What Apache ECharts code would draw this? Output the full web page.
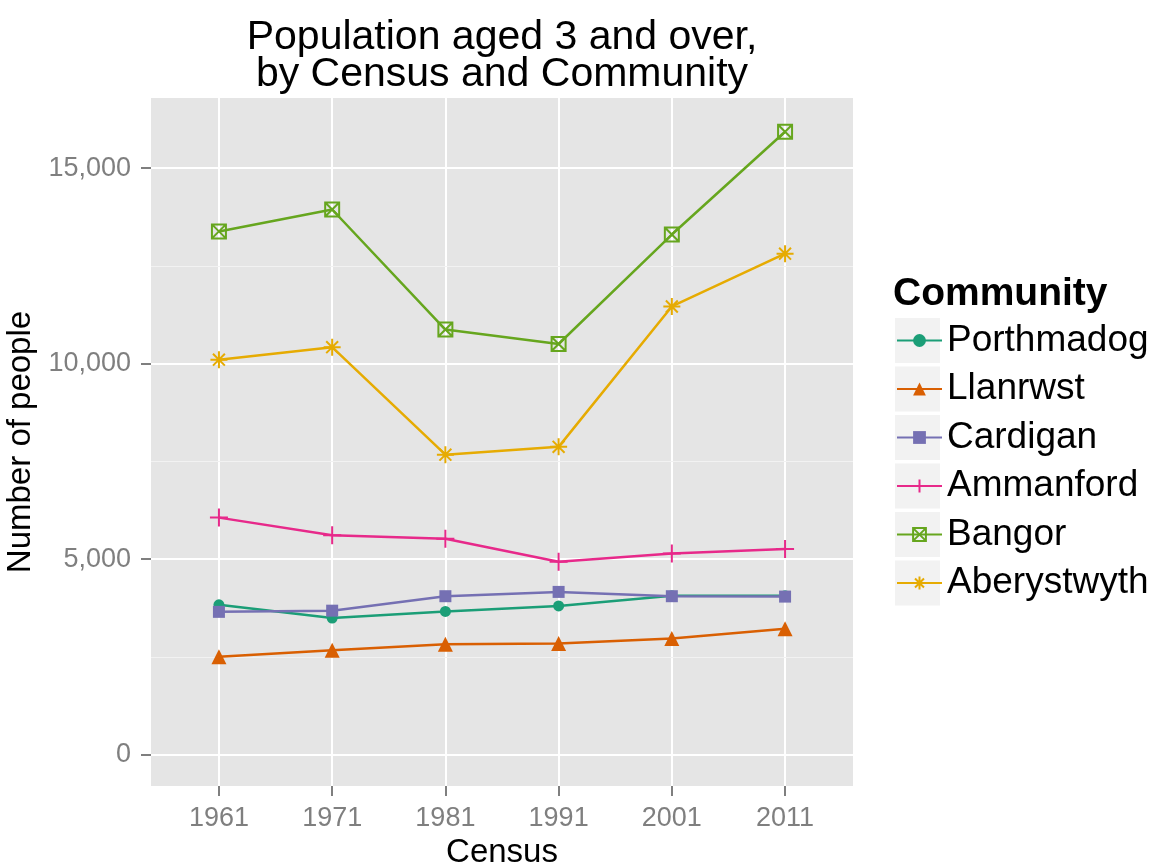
<!DOCTYPE html>
<html>
<head>
<meta charset="utf-8">
<script src="https://cdn.jsdelivr.net/npm/echarts@6/dist/echarts.min.js"></script>
<style>
html,body{margin:0;padding:0;background:#fff;}
#chart{width:1154px;height:863px;}
</style>
</head>
<body>
<div id="chart"></div>
<script>
var years = [1961, 1971, 1981, 1991, 2001, 2011];
var communities = ['Porthmadog', 'Llanrwst', 'Cardigan', 'Ammanford', 'Bangor', 'Aberystwyth'];
var porthmadog = [3830, 3490, 3660, 3800, 4060, 4060];
var llanrwst = [2500, 2670, 2820, 2840, 2970, 3220];
var cardigan = [3650, 3680, 4050, 4160, 4050, 4040];
var ammanford = [6060, 5610, 5520, 4930, 5140, 5260];
var bangor = [13380, 13940, 10870, 10500, 13300, 15930];
var aberystwyth = [10100, 10420, 7670, 7870, 11460, 12810];
var yMajorTicks = [0, 5000, 10000, 15000];
var yMinorTicks = [2500, 7500, 12500];

var colors = ['#1B9E77', '#D95F02', '#7570B3', '#E7298A', '#66A61E', '#E6AB02'];
var values = [porthmadog, llanrwst, cardigan, ammanford, bangor, aberystwyth];
var symbols = [
  {symbol: 'circle', size: 11, open: false},
  {symbol: 'triangle', size: 15, open: false},
  {symbol: 'rect', size: 12, open: false},
  {symbol: 'path://M0,5L10,5M5,0L5,10', size: 18, open: true},
  {symbol: 'path://M0,0L10,0L10,10L0,10ZM0,0L10,10M0,10L10,0', size: 14, open: true},
  {symbol: 'path://M0,5L10,5M5,0L5,10M1.5,1.5L8.5,8.5M1.5,8.5L8.5,1.5', size: 17, open: true}
];

var series = communities.map(function (name, i) {
  var s = symbols[i];
  return {
    name: name,
    type: 'line',
    xAxisIndex: 0,
    yAxisIndex: 0,
    data: years.map(function (y, j) { return [y, values[i][j]]; }),
    symbol: s.symbol,
    symbolSize: s.size,
    showAllSymbol: true,
    lineStyle: {color: colors[i], width: 2.5},
    itemStyle: s.open ? {color: 'rgba(0,0,0,0)', borderColor: colors[i], borderWidth: 2} : {color: colors[i], borderWidth: 0},
    emphasis: {disabled: true},
    z: 3 + i
  };
});

var fmt = function (v) { return String(v).replace(/\B(?=(\d{3})+(?!\d))/g, ','); };

var keyRects = communities.map(function (n, i) {
  return {type: 'rect', left: 895, top: 318 + i * 48.5, shape: {width: 45, height: 45}, style: {fill: '#F2F2F2'}, z: 0};
});

var chart = echarts.init(document.getElementById('chart'), null, {renderer: 'canvas'});
chart.setOption({
  backgroundColor: '#ffffff',
  animation: false,
  color: colors,
  title: [
    {
      text: 'Population aged 3 and over,\nby Census and Community',
      left: 502, top: 19, padding: 0,
      textAlign: 'center',
      textStyle: {fontFamily: 'Liberation Sans', fontSize: 41, fontWeight: 'normal', color: '#000', lineHeight: 37}
    },
    {
      text: 'Community',
      left: 893, top: 275, padding: 0,
      textStyle: {fontFamily: 'Liberation Sans', fontSize: 39, fontWeight: 'bold', color: '#000'}
    }
  ],
  graphic: keyRects,
  legend: {
    data: communities,
    orient: 'vertical',
    left: 896, top: 316.5, padding: 0,
    itemWidth: 45, itemHeight: 16, itemGap: 0.5,
    textStyle: {fontFamily: 'Liberation Sans', fontSize: 37, color: '#000', lineHeight: 48},
    selectedMode: false
  },
  grid: {
    left: 151, right: 1154 - 853, top: 98, bottom: 863 - 786,
    show: true, backgroundColor: '#E5E5E5', borderWidth: 0,
    containLabel: false, outerBoundsMode: 'none'
  },
  xAxis: {
    type: 'value',
    min: 1955, max: 2017,
    name: 'Census', nameLocation: 'middle', nameGap: 48,
    nameTextStyle: {fontFamily: 'Liberation Sans', fontSize: 33, color: '#000'},
    axisLine: {show: false, onZero: false},
    axisTick: {show: true, customValues: years, length: 10, lineStyle: {color: '#7F7F7F', width: 2}},
    axisLabel: {customValues: years, margin: 19, fontFamily: 'Liberation Sans', fontSize: 27, color: '#7F7F7F', formatter: function (v) { return String(v); }},
    splitLine: {show: true, lineStyle: {color: '#FFFFFF', width: 2}}
  },
  yAxis: [
    {
      type: 'value',
      min: -804, max: 16792,
      name: 'Number of people', nameLocation: 'middle', nameGap: 108, nameRotate: 90,
      nameTextStyle: {fontFamily: 'Liberation Sans', fontSize: 33, color: '#000'},
      axisLine: {show: false, onZero: false},
      axisTick: {show: true, customValues: yMajorTicks, length: 10, lineStyle: {color: '#7F7F7F', width: 2}},
      axisLabel: {customValues: yMajorTicks, margin: 20, fontFamily: 'Liberation Sans', fontSize: 27, color: '#7F7F7F', formatter: fmt},
      splitLine: {show: true, lineStyle: {color: '#FFFFFF', width: 2}},
      z: 2
    },
    {
      type: 'value',
      min: -804, max: 16792,
      position: 'left',
      axisLine: {show: false, onZero: false},
      axisTick: {show: false, customValues: yMinorTicks},
      axisLabel: {show: false, customValues: yMinorTicks},
      splitLine: {show: true, lineStyle: {color: '#F2F2F2', width: 1}},
      z: 1
    }
  ],
  series: series
});
</script>
</body>
</html>
